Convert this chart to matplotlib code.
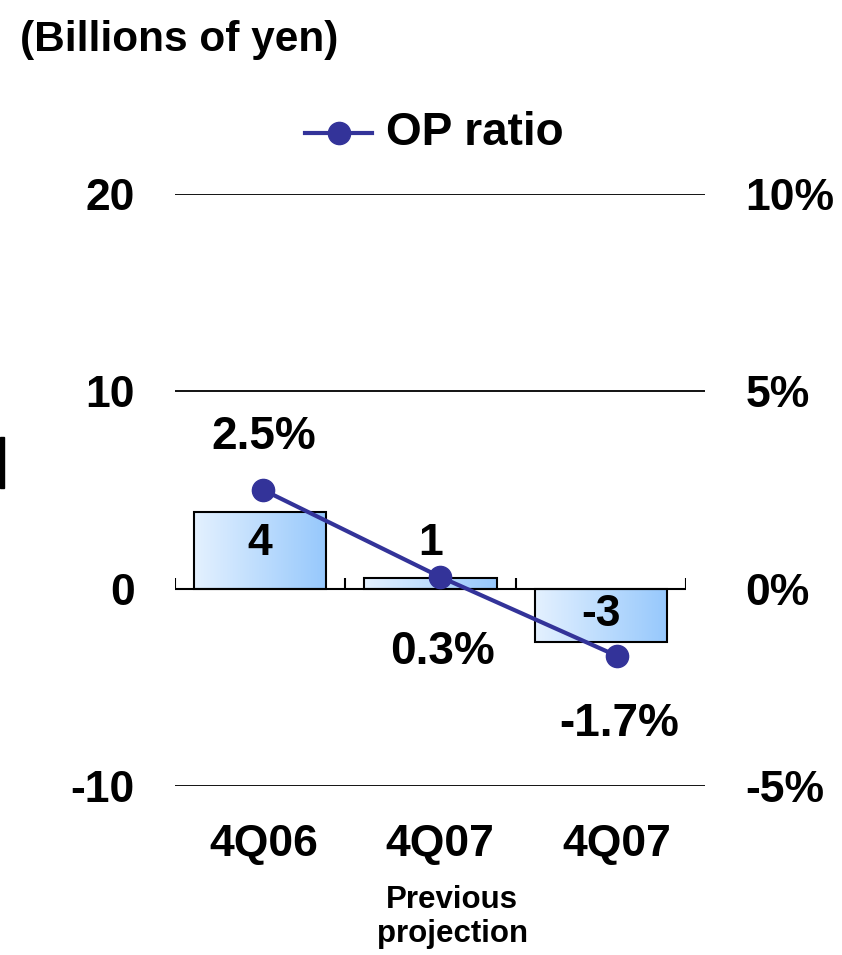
import matplotlib.pyplot as plt
import numpy as np
from matplotlib.patches import Rectangle
from matplotlib.lines import Line2D
from matplotlib.transforms import blended_transform_factory

plt.rcParams['font.family'] = 'Liberation Sans'
plt.rcParams['font.weight'] = 'bold'

quarters = ['4Q06', '4Q07', '4Q07']
op_income = [3.9, 0.55, -2.7]        # billions of yen
op_ratio = [2.5, 0.3, -1.7]          # %
bar_label_y = [2.3, 2.3, -1.3]       # where the yen labels sit

W, H = 842, 955
fig = plt.figure(figsize=(W / 100, H / 100), dpi=100)
left, bottom, top = 175, 786, 194
ax = fig.add_axes([left / W, 1 - bottom / H, 511 / W, (bottom - top) / H])
ax2 = fig.add_axes([left / W, 1 - bottom / H, 530 / W, (bottom - top) / H])
ax2.patch.set_visible(False)

x = np.arange(len(quarters))

# gradient filled bars
grad = np.linspace(0, 1, 256).reshape(1, -1)
cmap = plt.matplotlib.colors.LinearSegmentedColormap.from_list('bar', ['#e4f1ff', '#96c8fc'])
bw = 0.775
for xi, v in zip(x, op_income):
    r = Rectangle((xi - bw / 2, 0), bw, v, facecolor='none', edgecolor='black', lw=1.5, zorder=3)
    ax.add_patch(r)
    im = ax.imshow(grad, cmap=cmap, aspect='auto', zorder=2,
                   extent=[xi - bw / 2, xi + bw / 2, min(0, v), max(0, v)])
    im.set_clip_path(r)
for xi, v, ly in zip(x, op_income, bar_label_y):
    ax.text(xi, ly, f'{v:.0f}', ha='center', va='center', fontsize=32, zorder=6)

ax.set_xlim(-0.5, 2.5)
ax.set_ylim(-10, 20)
ax.axhline(0, color='black', lw=1.5, zorder=4)
ax.vlines([-0.5, 0.5, 1.5, 2.5], 0, 0.55, color='black', lw=1.5, zorder=4)
ax.set_yticks([-10, 0, 10, 20])
ax.set_yticklabels(['-10', '0', '10', '20'], fontsize=32)
ax.tick_params(axis='y', length=0, pad=29)
ax.set_xticks([])
for s in ax.spines.values():
    s.set_visible(False)

# OP ratio line on the right axis
ax2.set_xlim(-0.5, 2.5)
ax2.set_ylim(-5, 10)
for g in [10, 5, -5]:
    ax2.axhline(g, color='black', lw=1.3, zorder=1)
ax2.plot(x, op_ratio, color='#333399', lw=3, marker='o', markersize=16, zorder=5)
offsets = [(0, 53), (3, -75), (3, -68)]
for xi, v, off in zip(x, op_ratio, offsets):
    ax2.annotate(f'{v:.1f}%', (xi, v), xytext=off, textcoords='offset pixels',
                 ha='center', va='center', fontsize=33, zorder=6)
ax2.yaxis.tick_right()
ax2.set_yticks([-5, 0, 5, 10])
ax2.set_yticklabels(['-5%', '0%', '5%', '10%'], fontsize=32)
ax2.tick_params(axis='y', length=0, pad=29)
ax2.set_xticks(x)
ax2.set_xticklabels(quarters, fontsize=32)
ax2.tick_params(axis='x', length=0, pad=27)
for s in ax2.spines.values():
    s.set_visible(False)

tr = blended_transform_factory(ax2.transData, fig.transFigure)
ax2.text(1.07, 1 - 917 / H, 'Previous\nprojection', transform=tr, ha='center', va='center',
         fontsize=22.5, linespacing=1.2)

fig.text(20 / W, 1 - 40 / H, '(Billions of yen)', fontsize=30.5, va='center', ha='left')

# legend
fig.add_artist(Line2D([305 / W, 372 / W], [1 - 133 / H] * 2, color='#333399', lw=3,
                      transform=fig.transFigure))
fig.add_artist(Line2D([339 / W], [1 - 133 / H], color='#333399', marker='o', markersize=16,
                      transform=fig.transFigure))
fig.text(386 / W, 1 - 133 / H, 'OP ratio', fontsize=33, va='center', ha='left')

# edge of a box cut off at the left margin
fig.add_artist(Rectangle((0, 1 - 488 / H), 4 / W, 51 / H, color='black',
                         transform=fig.transFigure))

fig.savefig('out.png', dpi=100)
